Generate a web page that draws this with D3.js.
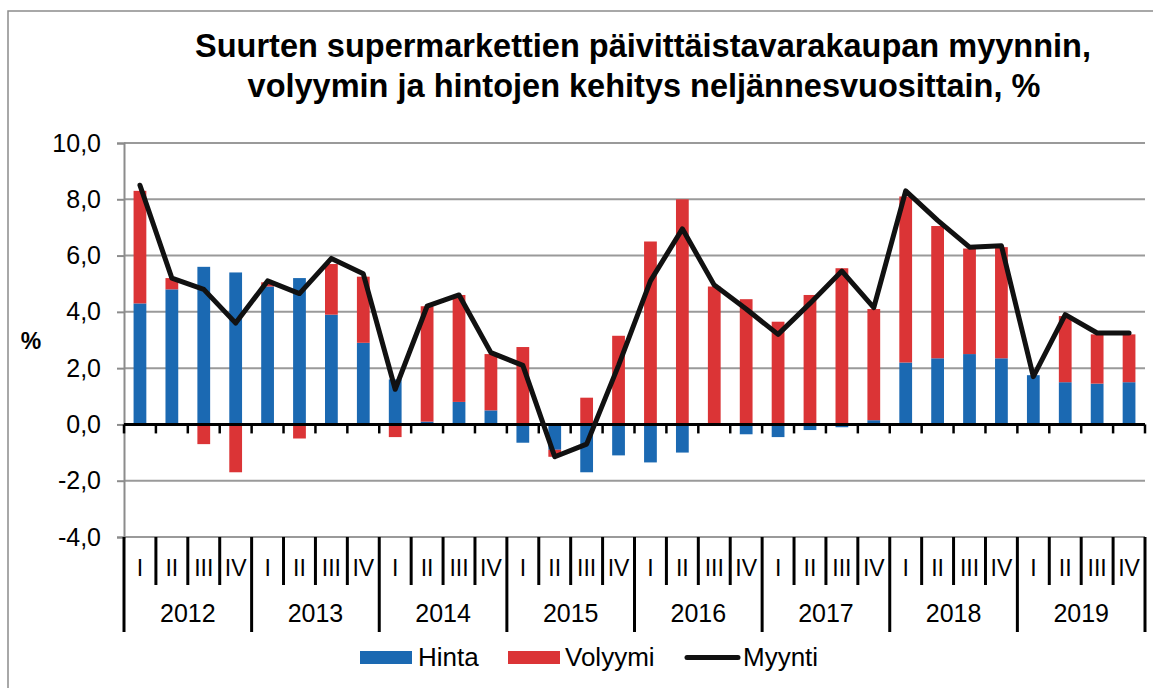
<!DOCTYPE html>
<html>
<head>
<meta charset="utf-8">
<script src="https://cdn.jsdelivr.net/npm/d3@7"></script>
<style>
  body { margin: 0; background: #fff; }
  svg { font-family: "Liberation Sans", Arial, sans-serif; }
</style>
</head>
<body>
<svg id="chart" width="1153" height="688"></svg>
<script>
const years = ["2012", "2013", "2014", "2015", "2016", "2017", "2018", "2019"];
const quarterLabels = ["I", "II", "III", "IV"];

const hinta = [4.3, 4.8, 5.6, 5.4, 4.9, 5.2, 3.9, 2.9, 1.6, 0.1, 0.8, 0.5,
  -0.65, -0.9, -1.7, -1.1, -1.35, -1.0, 0.0, -0.35, -0.45, -0.2, -0.1, 0.15,
  2.2, 2.35, 2.5, 2.35, 1.75, 1.5, 1.45, 1.5];
const volyymi = [4.0, 0.4, -0.7, -1.7, 0.15, -0.5, 1.8, 2.35, -0.45, 4.1, 3.8, 2.0,
  2.75, -0.25, 0.95, 3.15, 6.5, 8.0, 4.9, 4.45, 3.65, 4.6, 5.55, 3.95,
  5.9, 4.7, 3.75, 3.95, 0.0, 2.35, 1.75, 1.7];
const myynti = [8.5, 5.2, 4.8, 3.6, 5.1, 4.65, 5.9, 5.35, 1.25, 4.2, 4.6, 2.55,
  2.1, -1.15, -0.7, 2.1, 5.1, 6.95, 4.95, 4.1, 3.2, 4.3, 5.45, 4.15,
  8.3, 7.25, 6.3, 6.35, 1.7, 3.9, 3.25, 3.25];
const yTicks = [-4, -2, 0, 2, 4, 6, 8, 10];

const BLUE = "#1b69b2";
const RED = "#db3436";

// one row per quarter, used by the stack
const rows = [];
years.forEach((yr, yi) => {
  quarterLabels.forEach((q, qi) => {
    const i = yi * 4 + qi;
    rows.push({ key: yr + "-" + q, year: yr, q: q, hinta: hinta[i], volyymi: volyymi[i], myynti: myynti[i] });
  });
});

const svg = d3.select("#chart");

const plotLeft = 124, plotRight = 1145, plotTop = 143, plotBottom = 537;

const x = d3.scaleBand()
  .domain(rows.map((d) => d.key))
  .range([plotLeft, plotRight])
  .paddingInner(0.6)
  .paddingOuter(0.3);
const step = (plotRight - plotLeft) / rows.length;

const y = d3.scaleLinear().domain([-4, 10]).range([plotBottom, plotTop]);

// outer frame
svg.append("rect")
  .attr("x", 8)
  .attr("y", 11)
  .attr("width", 1300)
  .attr("height", 800)
  .attr("fill", "none")
  .attr("stroke", "#8c8c8c")
  .attr("stroke-width", 1.5);

// title
svg.append("text")
  .attr("x", 643)
  .attr("y", 57)
  .attr("text-anchor", "middle")
  .style("font-size", "32.5px")
  .style("font-weight", "bold")
  .text("Suurten supermarkettien päivittäistavarakaupan myynnin,");
svg.append("text")
  .attr("x", 644)
  .attr("y", 97)
  .attr("text-anchor", "middle")
  .style("font-size", "32.5px")
  .style("font-weight", "bold")
  .text("volyymin ja hintojen kehitys neljännesvuosittain, %");

// gridlines + y axis
svg.append("g")
  .selectAll("line")
  .data(yTicks.filter((t) => t !== 0))
  .enter()
  .append("line")
  .attr("x1", plotLeft)
  .attr("x2", plotRight)
  .attr("y1", (d) => y(d))
  .attr("y2", (d) => y(d))
  .attr("stroke", "#9a9a9a")
  .attr("stroke-width", 2);

const yAxis = svg.append("g")
  .attr("transform", `translate(${plotLeft},0)`)
  .call(d3.axisLeft(y).tickValues(yTicks).tickSize(7).tickPadding(16)
    .tickFormat((d) => d.toFixed(1).replace(".", ",")));
yAxis.select(".domain").attr("stroke", "#8c8c8c").attr("stroke-width", 2);
yAxis.selectAll(".tick line").attr("stroke", "#8c8c8c").attr("stroke-width", 2);
yAxis.selectAll(".tick text")
  .style("font-size", "25px")
  .style("font-family", "Liberation Sans, Arial, sans-serif")
  .attr("fill", "#000");

svg.append("text")
  .attr("x", 31)
  .attr("y", 349)
  .attr("text-anchor", "middle")
  .style("font-size", "23px")
  .style("font-weight", "bold")
  .text("%");

// stacked bars
const stack = d3.stack()
  .keys(["hinta", "volyymi"])
  .offset(d3.stackOffsetDiverging);
const series = stack(rows);
const colors = { hinta: BLUE, volyymi: RED };

svg.append("g")
  .selectAll("g")
  .data(series)
  .enter()
  .append("g")
  .attr("fill", (s) => colors[s.key])
  .selectAll("rect")
  .data((s) => s)
  .enter()
  .append("rect")
  .attr("x", (d) => x(d.data.key))
  .attr("width", x.bandwidth())
  .attr("y", (d) => y(Math.max(d[0], d[1])))
  .attr("height", (d) => Math.abs(y(d[0]) - y(d[1])));

// zero axis with small ticks
svg.append("line")
  .attr("x1", plotLeft)
  .attr("x2", plotRight)
  .attr("y1", y(0))
  .attr("y2", y(0))
  .attr("stroke", "#000")
  .attr("stroke-width", 3);
svg.append("g")
  .selectAll("line")
  .data(d3.range(rows.length + 1))
  .enter()
  .append("line")
  .attr("x1", (i) => plotLeft + i * step)
  .attr("x2", (i) => plotLeft + i * step)
  .attr("y1", y(0))
  .attr("y2", y(0) + 9)
  .attr("stroke", "#000")
  .attr("stroke-width", 2.5);

// myynti line
const line = d3.line()
  .x((d) => x(d.key) + x.bandwidth() / 2)
  .y((d) => y(d.myynti));
svg.append("path")
  .datum(rows)
  .attr("d", line)
  .attr("fill", "none")
  .attr("stroke", "#111")
  .attr("stroke-width", 5)
  .attr("stroke-linejoin", "round")
  .attr("stroke-linecap", "round");

// category axis: quarters and years
const catAxis = svg.append("g");
catAxis.selectAll("line.qtick")
  .data(d3.range(rows.length + 1))
  .enter()
  .append("line")
  .attr("class", "qtick")
  .attr("x1", (i) => plotLeft + i * step)
  .attr("x2", (i) => plotLeft + i * step)
  .attr("y1", plotBottom)
  .attr("y2", (i) => (i % 4 === 0 ? 632 : 585))
  .attr("stroke", "#000")
  .attr("stroke-width", 3);
catAxis.selectAll("text.qlabel")
  .data(rows)
  .enter()
  .append("text")
  .attr("class", "qlabel")
  .attr("x", (d) => x(d.key) + x.bandwidth() / 2)
  .attr("y", 576)
  .attr("text-anchor", "middle")
  .style("font-size", "23px")
  .text((d) => d.q);
catAxis.selectAll("text.ylabel")
  .data(years)
  .enter()
  .append("text")
  .attr("class", "ylabel")
  .attr("x", (d, i) => plotLeft + (i * 4 + 2) * step)
  .attr("y", 622)
  .attr("text-anchor", "middle")
  .style("font-size", "25px")
  .text((d) => d);

// legend
const legend = svg.append("g");
legend.append("rect").attr("x", 360).attr("y", 651).attr("width", 52).attr("height", 13).attr("fill", BLUE);
legend.append("text").attr("x", 418).attr("y", 666).style("font-size", "26px").text("Hinta");
legend.append("rect").attr("x", 508).attr("y", 651).attr("width", 52).attr("height", 13).attr("fill", RED);
legend.append("text").attr("x", 565).attr("y", 666).style("font-size", "26px").text("Volyymi");
legend.append("line").attr("x1", 687).attr("x2", 738).attr("y1", 657.5).attr("y2", 657.5)
  .attr("stroke", "#111").attr("stroke-width", 5).attr("stroke-linecap", "round");
legend.append("text").attr("x", 743).attr("y", 666).style("font-size", "26px").text("Myynti");
</script>
</body>
</html>
